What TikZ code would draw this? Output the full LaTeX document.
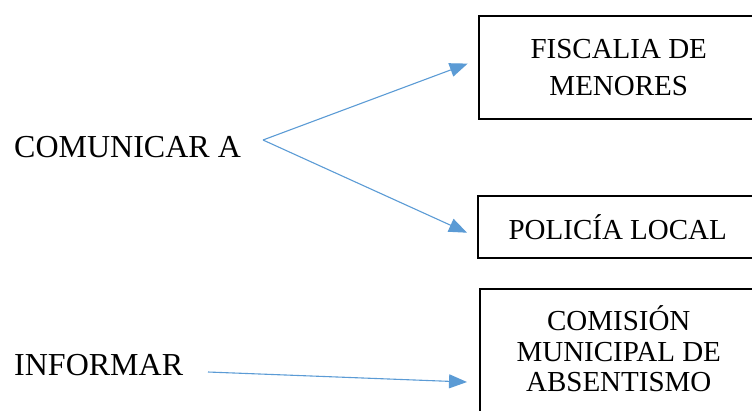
\documentclass[tikz,border=0pt]{standalone}
\usepackage{fontspec}
\setmainfont{Liberation Serif}
\usepackage{tikz}
\usetikzlibrary{arrows.meta,positioning}
\definecolor{arrowblue}{HTML}{5B9BD5}

\begin{document}
\begin{tikzpicture}[x=1pt, y=1pt,
  caja/.style={draw=black, line width=1.5pt, rectangle, align=center, minimum width=280pt, inner sep=0pt},
  etiq/.style={anchor=base west, inner sep=0pt, font=\fontsize{32}{36}\selectfont},
  flecha/.style={-{Triangle[length=18pt, width=14pt]}, arrowblue, line width=1.1pt}]
\useasboundingbox (0,0) rectangle (752,-410);
% left labels
\node[etiq] (comunicar) at (14,-157) {COMUNICAR A};
\node[etiq] (informar) at (14,-375) {INFORMAR};
% boxes on the right
\node[caja, anchor=north west, minimum height=103pt, font=\fontsize{29}{37}\selectfont] (fiscalia) at (478,-15) {FISCALIA DE\\MENORES};
\node[caja, anchor=north west, minimum height=62pt, font=\fontsize{29}{31}\selectfont] (policia) at (477,-195) {POLICÍA LOCAL};
\node[caja, anchor=north west, minimum width=278pt, inner ysep=17pt, text depth=80pt, font=\fontsize{29}{30.5}\selectfont] (comision) at (479,-288) {COMISIÓN\\MUNICIPAL DE\\ABSENTISMO};
% arrows
\coordinate (split) at (263,-140);
\coordinate (infstart) at (208,-372);
\draw[flecha, shorten >=11pt] (split) -- ([yshift=7.5pt]fiscalia.west);
\draw[flecha, shorten >=11pt] (split) -- ([yshift=-10.5pt]policia.west);
\draw[flecha, shorten >=12pt] (infstart) -- ([yshift=-94.5pt]comision.north west);
\end{tikzpicture}
\end{document}
